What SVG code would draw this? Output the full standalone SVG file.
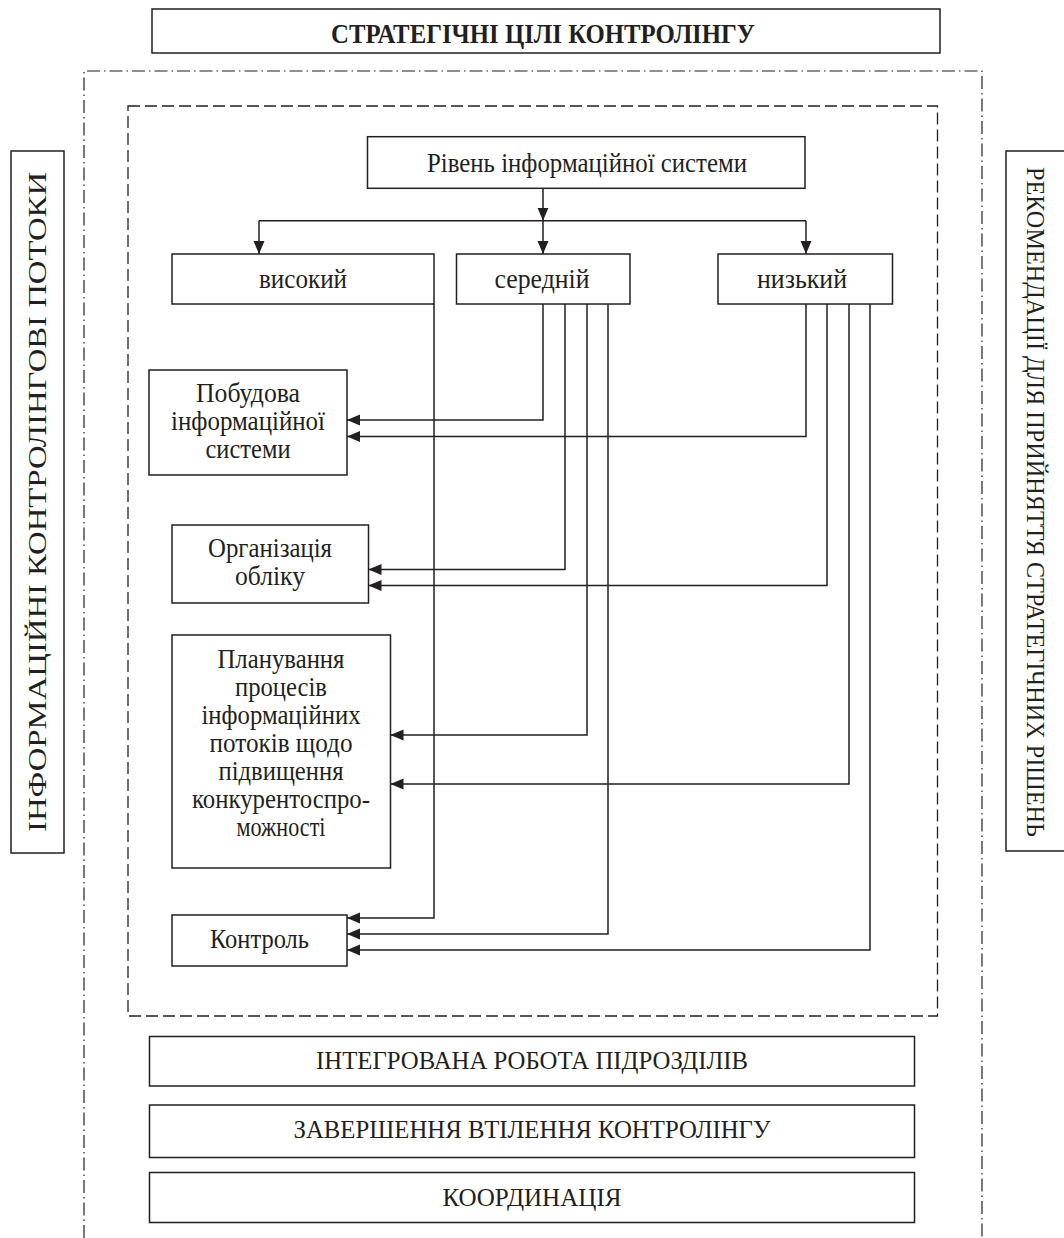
<svg xmlns="http://www.w3.org/2000/svg" width="1064" height="1238" viewBox="0 0 1064 1238">
<style>
.box{fill:#fff;stroke:#231f20;stroke-width:1.5}
.t{font-size:27px;fill:#231f20;text-anchor:middle}
.cap{font-size:26px}
.side{font-size:26px}
.ttl{font-size:27px;font-weight:bold}
.con{fill:none;stroke:#231f20;stroke-width:1.5}
</style>
<defs>
<marker id="ah" markerUnits="userSpaceOnUse" markerWidth="13" markerHeight="12" viewBox="0 0 13 12" refX="13" refY="6" orient="auto">
<path d="M0,0.5 L13,6 L0,11.5 z" fill="#231f20"/>
</marker>
</defs>
<rect width="1064" height="1238" fill="#fff"/>
<path d="M84,1238 V71 H982 V1238" fill="none" stroke="#231f20" stroke-width="1.2" stroke-dasharray="13 4 1.5 4"/>
<rect x="128" y="106" width="809.5" height="910" fill="none" stroke="#231f20" stroke-width="1.3" stroke-dasharray="12 5"/>
<g font-family="Liberation Serif, Times New Roman, DejaVu Serif, serif">
<g id="title"><rect class="box" x="152" y="9" width="788" height="44"/><text class="t ttl" x="543" y="43" textLength="424" lengthAdjust="spacingAndGlyphs">СТРАТЕГІЧНІ ЦІЛІ КОНТРОЛІНГУ</text></g>
<g id="left-side"><rect class="box" x="11" y="151" width="53" height="702"/><text class="t side" transform="translate(46,502) rotate(-90)" textLength="660" lengthAdjust="spacingAndGlyphs">ІНФОРМАЦІЙНІ КОНТРОЛІНГОВІ  ПОТОКИ</text></g>
<g id="right-side"><rect class="box" x="1006" y="151" width="70" height="700"/><text class="t side" transform="translate(1027,502) rotate(90)" textLength="670" lengthAdjust="spacingAndGlyphs">РЕКОМЕНДАЦІЇ ДЛЯ ПРИЙНЯТТЯ СТРАТЕГІЧНИХ РІШЕНЬ</text></g>
<g id="level"><rect class="box" x="367.5" y="136.7" width="437.5" height="51.6"/><text class="t" x="587" y="172" textLength="320" lengthAdjust="spacingAndGlyphs">Рівень інформаційної системи</text></g>
<g id="high"><rect class="box" x="172" y="254" width="262" height="50"/><text class="t" x="303" y="288" textLength="88" lengthAdjust="spacingAndGlyphs">високий</text></g>
<g id="mid"><rect class="box" x="456.5" y="254" width="173.5" height="50"/><text class="t" x="542" y="288" textLength="95" lengthAdjust="spacingAndGlyphs">середній</text></g>
<g id="low"><rect class="box" x="718" y="254" width="174.5" height="50"/><text class="t" x="802" y="288" textLength="90" lengthAdjust="spacingAndGlyphs">низький</text></g>
<g id="build"><rect class="box" x="149" y="370" width="198" height="105"/><text class="t"><tspan x="248" y="402" textLength="104" lengthAdjust="spacingAndGlyphs">Побудова</tspan></text><text class="t"><tspan x="248" y="430" textLength="154" lengthAdjust="spacingAndGlyphs">інформаційної</tspan></text><text class="t"><tspan x="248" y="458" textLength="85" lengthAdjust="spacingAndGlyphs">системи</tspan></text></g>
<g id="account"><rect class="box" x="172" y="525" width="196.5" height="78"/><text class="t"><tspan x="270" y="557" textLength="124" lengthAdjust="spacingAndGlyphs">Організація</tspan></text><text class="t"><tspan x="270" y="585" textLength="70" lengthAdjust="spacingAndGlyphs">обліку</tspan></text></g>
<g id="plan"><rect class="box" x="172" y="635" width="218.5" height="233"/>
<text class="t" x="281" y="668" textLength="127" lengthAdjust="spacingAndGlyphs">Планування</text>
<text class="t" x="281" y="696" textLength="92" lengthAdjust="spacingAndGlyphs">процесів</text>
<text class="t" x="281" y="724" textLength="159" lengthAdjust="spacingAndGlyphs">інформаційних</text>
<text class="t" x="281" y="752" textLength="143" lengthAdjust="spacingAndGlyphs">потоків щодо</text>
<text class="t" x="281" y="780" textLength="125" lengthAdjust="spacingAndGlyphs">підвищення</text>
<text class="t" x="281" y="808" textLength="178" lengthAdjust="spacingAndGlyphs">конкурентоспро-</text>
<text class="t" x="281" y="836" textLength="89" lengthAdjust="spacingAndGlyphs">можності</text></g>
<g id="control"><rect class="box" x="172" y="915" width="175" height="51"/><text class="t" x="259.5" y="948" textLength="99" lengthAdjust="spacingAndGlyphs">Контроль</text></g>
<g id="integr"><rect class="box" x="149.5" y="1036.5" width="765" height="49.5"/><text class="t cap" x="532" y="1069" textLength="432" lengthAdjust="spacingAndGlyphs">ІНТЕГРОВАНА РОБОТА ПІДРОЗДІЛІВ</text></g>
<g id="finish"><rect class="box" x="149.5" y="1105" width="765" height="52.5"/><text class="t cap" x="532" y="1138" textLength="477" lengthAdjust="spacingAndGlyphs">ЗАВЕРШЕННЯ ВТІЛЕННЯ КОНТРОЛІНГУ</text></g>
<g id="coord"><rect class="box" x="149.5" y="1172.5" width="765" height="50"/><text class="t cap" x="532" y="1206" textLength="179" lengthAdjust="spacingAndGlyphs">КООРДИНАЦІЯ</text></g>
</g>
<g id="connectors">
<path class="con" d="M543,188.3 V220.7" marker-end="url(#ah)"/>
<path class="con" d="M259,220.7 H806"/>
<path class="con" d="M259,220.7 V254" marker-end="url(#ah)"/>
<path class="con" d="M543,220.7 V254" marker-end="url(#ah)"/>
<path class="con" d="M806,220.7 V254" marker-end="url(#ah)"/>
<path class="con" d="M434,304 V918 H347" marker-end="url(#ah)"/>
<path class="con" d="M543,304 V420 H347" marker-end="url(#ah)"/>
<path class="con" d="M565,304 V569.5 H368.5" marker-end="url(#ah)"/>
<path class="con" d="M587,304 V735 H390.5" marker-end="url(#ah)"/>
<path class="con" d="M608,304 V934 H347" marker-end="url(#ah)"/>
<path class="con" d="M806,304 V436.5 H347" marker-end="url(#ah)"/>
<path class="con" d="M827,304 V585.5 H368.5" marker-end="url(#ah)"/>
<path class="con" d="M849,304 V784 H390.5" marker-end="url(#ah)"/>
<path class="con" d="M870,304 V950 H347" marker-end="url(#ah)"/>
</g>
</svg>
